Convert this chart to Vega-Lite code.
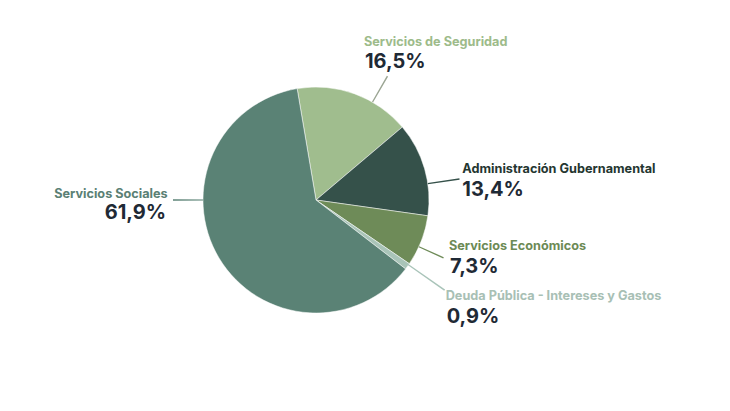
{
  "$schema": "https://vega.github.io/schema/vega-lite/v6.json",
  "width": 632,
  "height": 400,
  "autosize": {"type": "none"},
  "padding": {"left": 0, "top": 0, "right": 98, "bottom": 11},
  "background": "#ffffff",
  "config": {"view": {"stroke": null}},
  "data": {
    "values": [
      {"cat": "Servicios de Seguridad", "pct": 16.5, "txt": "16,5%", "orden": 1},
      {"cat": "Administración Gubernamental", "pct": 13.4, "txt": "13,4%", "orden": 2},
      {"cat": "Servicios Económicos", "pct": 7.3, "txt": "7,3%", "orden": 3},
      {"cat": "Deuda Pública - Intereses y Gastos", "pct": 0.9, "txt": "0,9%", "orden": 4},
      {"cat": "Servicios Sociales", "pct": 61.9, "txt": "61,9%", "orden": 5}
    ]
  },
  "transform": [
    {"stack": "pct", "groupby": [], "sort": [{"field": "orden", "order": "ascending"}], "as": ["s0", "s1"]}
  ],
  "encoding": {
    "theta": {"field": "pct", "type": "quantitative", "stack": true, "scale": {"domain": [0, 100], "range": [-0.16755, 6.11564]}},
    "order": {"field": "orden", "type": "quantitative"}
  },
  "layer": [
    {
      "mark": {"type": "arc", "outerRadius": 113, "stroke": "#ffffff", "strokeWidth": 0.5},
      "encoding": {
        "color": {"field": "cat", "type": "nominal", "legend": null,
          "scale": {"domain": ["Servicios de Seguridad", "Administración Gubernamental", "Servicios Económicos", "Deuda Pública - Intereses y Gastos", "Servicios Sociales"],
                    "range": ["#a0bd8e", "#35514a", "#6e8b58", "#a9c4b8", "#5a8275"]}}
      }
    },
    {
      "mark": {"type": "arc", "innerRadius": 113, "outerRadius": 143, "thetaOffset": 0.6859, "theta2Offset": 0.6964, "fill": "#9ba593"},
      "encoding": {"theta": {"field": "s0", "type": "quantitative"}, "theta2": {"field": "s0"}, "opacity": {"condition": {"test": "datum.cat === 'Servicios de Seguridad'", "value": 1}, "value": 0}}
    },
    {
      "mark": {"type": "arc", "innerRadius": 113, "outerRadius": 145, "thetaOffset": 0.5515, "theta2Offset": 0.5620, "fill": "#35514a"},
      "encoding": {"theta": {"field": "s0", "type": "quantitative"}, "theta2": {"field": "s0"}, "opacity": {"condition": {"test": "datum.cat === 'Administración Gubernamental'", "value": 1}, "value": 0}}
    },
    {
      "mark": {"type": "arc", "innerRadius": 113, "outerRadius": 140, "thetaOffset": 0.2803, "theta2Offset": 0.2908, "fill": "#6e8b58"},
      "encoding": {"theta": {"field": "s0", "type": "quantitative"}, "theta2": {"field": "s0"}, "opacity": {"condition": {"test": "datum.cat === 'Servicios Económicos'", "value": 1}, "value": 0}}
    },
    {
      "mark": {"type": "arc", "innerRadius": 111, "outerRadius": 157, "thetaOffset": 0.00663, "theta2Offset": 0.01710, "fill": "#a9c4b9"},
      "encoding": {"theta": {"field": "s0", "type": "quantitative"}, "theta2": {"field": "s0"}, "opacity": {"condition": {"test": "datum.cat === 'Deuda Pública - Intereses y Gastos'", "value": 1}, "value": 0}}
    },
    {
      "mark": {"type": "arc", "innerRadius": 113, "outerRadius": 143, "thetaOffset": 2.4808, "theta2Offset": 2.4913, "fill": "#5a8275"},
      "encoding": {"theta": {"field": "s0", "type": "quantitative"}, "theta2": {"field": "s0"}, "opacity": {"condition": {"test": "datum.cat === 'Servicios Sociales'", "value": 1}, "value": 0}}
    },
    {
      "mark": {"type": "text", "radius": 143, "thetaOffset": 0.1728, "dx": -23.5, "dy": -30.5, "align": "left", "baseline": "alphabetic", "font": "Inter", "fontSize": 12.7, "fontWeight": "bold", "fill": "#9dbb8a"},
      "encoding": {"detail": {"field": "cat"}, "text": {"field": "cat"}, "opacity": {"condition": {"test": "datum.cat === 'Servicios de Seguridad'", "value": 1}, "value": 0}}
    },
    {
      "mark": {"type": "text", "radius": 143, "thetaOffset": 0.1728, "dx": -22.5, "dy": -7.9, "align": "left", "baseline": "alphabetic", "font": "Inter", "fontSize": 20, "fontWeight": "bold", "fill": "#1f2a35"},
      "encoding": {"detail": {"field": "cat"}, "text": {"field": "txt"}, "opacity": {"condition": {"test": "datum.cat === 'Servicios de Seguridad'", "value": 1}, "value": 0}}
    },
    {
      "mark": {"type": "text", "radius": 145, "thetaOffset": 0.1358, "dx": 2.8, "dy": -6.4, "align": "left", "baseline": "alphabetic", "font": "Inter", "fontSize": 12.7, "fontWeight": "bold", "fill": "#243630"},
      "encoding": {"detail": {"field": "cat"}, "text": {"field": "cat"}, "opacity": {"condition": {"test": "datum.cat === 'Administración Gubernamental'", "value": 1}, "value": 0}}
    },
    {
      "mark": {"type": "text", "radius": 145, "thetaOffset": 0.1358, "dx": 2.8, "dy": 16.6, "align": "left", "baseline": "alphabetic", "font": "Inter", "fontSize": 20, "fontWeight": "bold", "fill": "#1f2a35"},
      "encoding": {"detail": {"field": "cat"}, "text": {"field": "txt"}, "opacity": {"condition": {"test": "datum.cat === 'Administración Gubernamental'", "value": 1}, "value": 0}}
    },
    {
      "mark": {"type": "text", "radius": 140, "thetaOffset": 0.0562, "dx": 5.5, "dy": -7.8, "align": "left", "baseline": "alphabetic", "font": "Inter", "fontSize": 12.7, "fontWeight": "bold", "fill": "#6c8a55"},
      "encoding": {"detail": {"field": "cat"}, "text": {"field": "cat"}, "opacity": {"condition": {"test": "datum.cat === 'Servicios Económicos'", "value": 1}, "value": 0}}
    },
    {
      "mark": {"type": "text", "radius": 140, "thetaOffset": 0.0562, "dx": 6.5, "dy": 15.5, "align": "left", "baseline": "alphabetic", "font": "Inter", "fontSize": 20, "fontWeight": "bold", "fill": "#1f2a35"},
      "encoding": {"detail": {"field": "cat"}, "text": {"field": "txt"}, "opacity": {"condition": {"test": "datum.cat === 'Servicios Económicos'", "value": 1}, "value": 0}}
    },
    {
      "mark": {"type": "text", "radius": 157, "thetaOffset": -0.0164, "dx": 1.1, "dy": 9.9, "align": "left", "baseline": "alphabetic", "font": "Inter", "fontSize": 12.7, "fontWeight": "bold", "fill": "#a8c0b5"},
      "encoding": {"detail": {"field": "cat"}, "text": {"field": "cat"}, "opacity": {"condition": {"test": "datum.cat === 'Deuda Pública - Intereses y Gastos'", "value": 1}, "value": 0}}
    },
    {
      "mark": {"type": "text", "radius": 157, "thetaOffset": -0.0164, "dx": 2.1, "dy": 32.6, "align": "left", "baseline": "alphabetic", "font": "Inter", "fontSize": 20, "fontWeight": "bold", "fill": "#1f2a35"},
      "encoding": {"detail": {"field": "cat"}, "text": {"field": "txt"}, "opacity": {"condition": {"test": "datum.cat === 'Deuda Pública - Intereses y Gastos'", "value": 1}, "value": 0}}
    },
    {
      "mark": {"type": "text", "radius": 143, "thetaOffset": 0.5414, "dx": -5.3, "dy": -2.3, "align": "right", "baseline": "alphabetic", "font": "Inter", "fontSize": 12.7, "fontWeight": "bold", "fill": "#5a8074"},
      "encoding": {"detail": {"field": "cat"}, "text": {"field": "cat"}, "opacity": {"condition": {"test": "datum.cat === 'Servicios Sociales'", "value": 1}, "value": 0}}
    },
    {
      "mark": {"type": "text", "radius": 143, "thetaOffset": 0.5414, "dx": -7, "dy": 19.3, "align": "right", "baseline": "alphabetic", "font": "Inter", "fontSize": 20, "fontWeight": "bold", "fill": "#1f2a35"},
      "encoding": {"detail": {"field": "cat"}, "text": {"field": "txt"}, "opacity": {"condition": {"test": "datum.cat === 'Servicios Sociales'", "value": 1}, "value": 0}}
    }
  ]
}
